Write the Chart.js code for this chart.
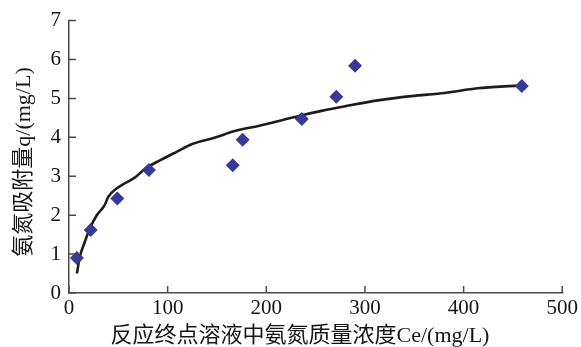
<!DOCTYPE html>
<html>
<head>
<meta charset="utf-8">
<script src="https://cdn.jsdelivr.net/npm/chart.js@4"></script>
<style>
  html, body { margin: 0; padding: 0; background: #fff; }
  #wrap { width: 581px; height: 347px; }
</style>
</head>
<body>
<div id="wrap"><canvas id="myChart" width="581" height="347"></canvas></div>
<script>
// measured points
const ceValues = [8, 22, 49, 81, 166, 176, 236, 271, 290, 459];
const qValues = [0.90, 1.62, 2.43, 3.16, 3.28, 3.94, 4.47, 5.04, 5.84, 5.32];

// fitted curve
const fitCe = [8, 11, 16, 21, 28, 36, 40, 48, 56, 67, 77, 93, 110, 125, 149, 166, 193, 216, 233, 256, 280, 313, 347, 381, 414, 455];
const fitQ = [0.50, 0.93, 1.31, 1.65, 1.99, 2.25, 2.48, 2.68, 2.81, 2.97, 3.19, 3.42, 3.64, 3.83, 4.0, 4.15, 4.30, 4.44, 4.55, 4.68, 4.80, 4.95, 5.06, 5.14, 5.26, 5.33];

const xTitle = "反应终点溶液中氨氮质量浓度Ce/(mg/L)";
const yTitle = "氨氮吸附量q/(mg/L)";

const fontFamily = '"Liberation Serif", "Noto Sans CJK SC", serif';
const axisColor = '#4a4a4a';
const textColor = '#151515';

// ticks drawn inward + axis titles
const axisExtras = {
    id: 'axisExtras',
    afterDraw(chart) {
        const ctx = chart.ctx;
        const x = chart.scales.x;
        const y = chart.scales.y;
        ctx.save();
        ctx.strokeStyle = axisColor;
        ctx.lineWidth = 1.5;
        ctx.beginPath();
        for (const t of x.ticks) {
            const px = x.getPixelForValue(t.value);
            ctx.moveTo(px, y.bottom);
            ctx.lineTo(px, y.bottom - 7);
        }
        for (const t of y.ticks) {
            const py = y.getPixelForValue(t.value);
            ctx.moveTo(x.left, py);
            ctx.lineTo(x.left + 7, py);
        }
        ctx.stroke();

        ctx.fillStyle = textColor;
        ctx.font = '22px ' + fontFamily;
        ctx.textAlign = 'center';
        ctx.textBaseline = 'middle';
        ctx.fillText(xTitle, 300, 336);
        ctx.translate(24, 162);
        ctx.rotate(-Math.PI / 2);
        ctx.fillText(yTitle, 0, 0);
        ctx.restore();
    }
};

const pts = ceValues.map((v, i) => ({ x: v, y: qValues[i] }));
const fitPts = fitCe.map((v, i) => ({ x: v, y: fitQ[i] }));

const ctx = document.getElementById('myChart').getContext('2d');
const chart = new Chart(ctx, {
    type: 'scatter',
    data: {
        datasets: [
            {
                label: 'fit',
                data: fitPts,
                showLine: true,
                borderColor: '#1c1c1c',
                borderWidth: 2.6,
                pointRadius: 0,
                cubicInterpolationMode: 'monotone',
                fill: false,
                order: 2
            },
            {
                label: 'data',
                data: pts,
                pointStyle: 'rectRot',
                pointRadius: 7,
                backgroundColor: '#383896',
                borderColor: '#383896',
                borderWidth: 0,
                order: 1
            }
        ]
    },
    options: {
        responsive: false,
        animation: false,
        layout: { padding: { top: 12, right: 16, left: 0, bottom: 0 } },
        plugins: {
            legend: { display: false },
            tooltip: { enabled: false }
        },
        scales: {
            x: {
                type: 'linear',
                min: 0,
                max: 500,
                ticks: { stepSize: 100, color: textColor, font: { family: fontFamily, size: 21 }, padding: 3 },
                grid: { display: true, drawOnChartArea: false, drawTicks: false, color: axisColor, lineWidth: 1.5 },
                border: { color: axisColor, width: 1.5 },
                afterFit(scale) { scale.height = 54; }
            },
            y: {
                min: 0,
                max: 7,
                ticks: { stepSize: 1, color: textColor, font: { family: fontFamily, size: 21 }, padding: 8 },
                grid: { display: true, drawOnChartArea: false, drawTicks: false, color: axisColor, lineWidth: 1.5 },
                border: { color: axisColor, width: 1.5 },
                afterFit(scale) { scale.width = 69; }
            }
        }
    },
    plugins: [axisExtras]
});
</script>
</body>
</html>
